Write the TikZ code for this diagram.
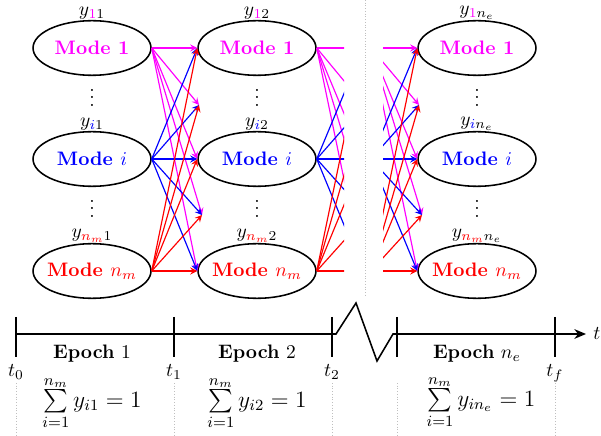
\documentclass[tikz,border=0pt]{standalone}
\usepackage{amsmath}
\usepackage{xcolor}
\definecolor{magenta}{RGB}{255, 0, 255}
\definecolor{blue}{RGB}{0, 0, 255}
\definecolor{red}{RGB}{255, 0, 0}
\usetikzlibrary{positioning, arrows.meta, shapes.geometric}

\tikzset{
  mode/.style={ellipse, draw, thick, minimum width=60.5pt, minimum height=28pt, inner xsep=-2pt, inner ysep=0pt, font=\bfseries},
  ylab/.style={inner sep=1.5pt},
  link/.style={->, >=stealth, semithick},
  guide/.style={densely dotted, gray!50},
}

% one column of modes: #1 prefix, #2 x position, #3 epoch subscript
\newcommand{\modecol}[3]{%
  \node[mode, text=magenta] (#11) at (#2,48) {Mode 1};
  \node[mode, text=blue] (#1i) at (#2,159) {Mode $i$};
  \node[mode, text=red] (#1n) at (#2,271) {Mode $n_m$};
  \node[ylab, above=-1.5pt of #11] (#1y1) {$y_{\textcolor{magenta}{1}#3}$};
  \node[ylab, above=-1.5pt of #1i] (#1yi) {$y_{\textcolor{blue}{i}#3}$};
  \node[ylab, above=-1.5pt of #1n] (#1yn) {$y_{\textcolor{red}{n_m}#3}$};
  \node (#1v1) at (#2,92) {$\vdots$};
  \node (#1v2) at (#2,203) {$\vdots$};
  \coordinate (#1d1) at (#2-58,105);
  \coordinate (#1d2) at (#2-55,215);
}

% links from three sources to five targets
\newcommand{\modelinks}[2]{%
  \foreach \s/\c in {#1}
    \foreach \t in {#2}
      \draw[link, \c] (\s) -- (\t);
}

\begin{document}
\begin{tikzpicture}[x=0.513pt, y=-0.513pt]
  \useasboundingbox (0,0) rectangle (601,436);

  % Columns
  \modecol{a}{92}{1}
  \modecol{b}{257}{2}
  \modecol{c}{477}{n_e}

  % Free ends of the cut links
  \coordinate (p1) at (363,48);
  \coordinate (pd1) at (364,105);
  \coordinate (pi) at (363,159);
  \coordinate (pd2) at (367,215);
  \coordinate (pn) at (363,271);
  \coordinate (q1) at (371,48);
  \coordinate (qi) at (371,159);
  \coordinate (qn) at (371,271);

  % Links
  \modelinks{a1.east/magenta, ai.east/blue, an.east/red}{b1.west, bd1, bi.west, bd2, bn.west}
  \begin{scope}
    \clip (310,0) rectangle (344,300);
    \modelinks{b1.east/magenta, bi.east/blue, bn.east/red}{p1, pd1, pi, pd2, pn}
  \end{scope}
  \begin{scope}
    \clip (383,0) rectangle (430,300);
    \modelinks{q1/magenta, qi/blue, qn/red}{c1.west, cd1, ci.west, cd2, cn.west}
  \end{scope}
  \draw[guide] (365,0) -- (365,295);

  % Time axis
  \draw[thick] (16,334) -- (332,334) -- (336,334) -- (356,303) -- (377,361) -- (393,334) -- (397,334);
  \draw[thick, -{Stealth[length=6pt, width=5pt]}] (397,334) -- (586,334) node[right] (t) {$t$};
  \draw[thick] (16,317) -- (16,357) node[below] (t0) {$t_0$};
  \draw[thick] (174,317) -- (174,357) node[below] (t1) {$t_1$};
  \draw[thick] (332,317) -- (332,357) node[below] (t2) {$t_2$};
  \draw[thick] (397,317) -- (397,357);
  \draw[thick] (555,317) -- (555,357) node[below] (tf) {$t_f$};
  \foreach \x in {16, 174, 332, 397, 555}
    \draw[guide] (\x,383) -- (\x,436);

  % Epochs
  \node (e1) at (92,354) {\textbf{Epoch} $1$};
  \node (e2) at (257,354) {\textbf{Epoch} $2$};
  \node (e3) at (477,354) {\textbf{Epoch} $n_e$};
  \node[font=\large] (s1) at (92,403) {$\sum\limits_{i=1}^{n_m} y_{i1} = 1$};
  \node[font=\large] (s2) at (257,403) {$\sum\limits_{i=1}^{n_m} y_{i2} = 1$};
  \node[font=\large] (s3) at (481,402) {$\sum\limits_{i=1}^{n_m} y_{in_e} = 1$};
\end{tikzpicture}
\end{document}
